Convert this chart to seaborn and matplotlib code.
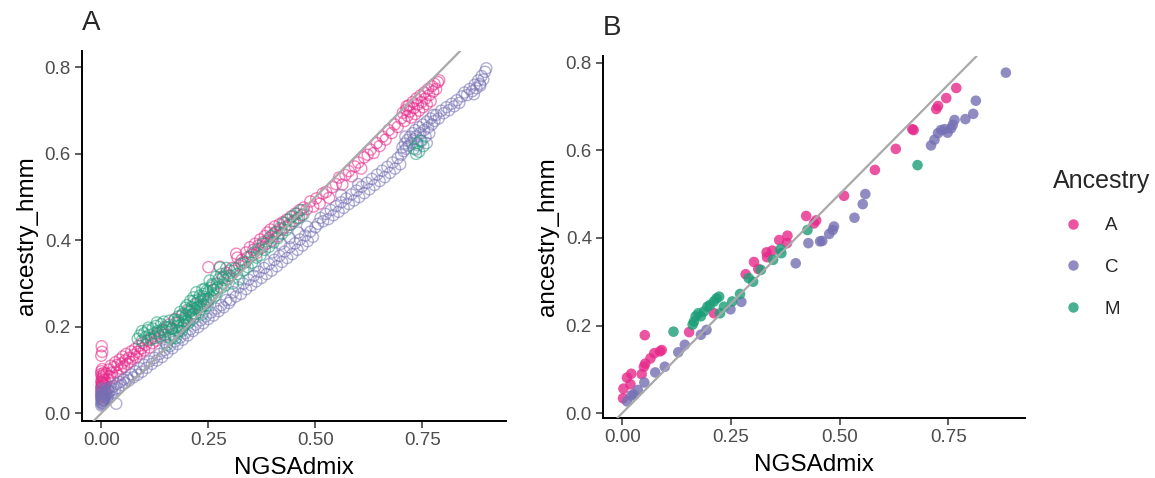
import numpy as np
import pandas as pd
import matplotlib
matplotlib.use("Agg")
import matplotlib.pyplot as plt
import seaborn as sns
from matplotlib.lines import Line2D

# ---------------- data ----------------
# Panel A (many samples, hollow points)
a_A_x = [0.000,0.001,0.000,0.002,0.000,0.001,0.003,0.000,0.002,0.001,0.004,0.000,0.003,0.005,0.002,0.006,0.001,0.004,0.007,0.000,
         0.003,0.008,0.002,0.005,0.009,0.001,0.006,0.000,0.002,0.010,0.001,
         0.012,0.015,0.018,0.020,0.022,0.025,0.027,0.030,0.033,0.035,0.038,0.040,0.043,0.046,0.048,0.050,0.053,0.056,0.058,0.061,
         0.064,0.067,0.070,0.073,0.076,0.079,0.082,0.085,0.088,0.091,0.094,0.097,0.100,0.104,0.108,0.112,0.116,0.120,0.124,0.128,
         0.133,0.138,0.143,0.148,0.153,
         0.158,0.165,0.172,0.180,0.188,0.196,0.205,0.214,0.222,0.230,0.238,0.246,0.250,0.262,0.270,0.277,0.284,0.292,0.298,0.305,
         0.310,0.315,0.318,0.322,0.328,0.333,0.338,0.342,0.347,0.351,0.355,0.359,0.363,0.367,0.371,0.375,0.378,0.382,0.385,0.388,
         0.392,0.395,0.398,0.402,0.405,0.408,0.412,0.416,0.420,0.424,0.428,0.433,0.438,0.443,0.448,0.453,0.458,0.463,0.468,0.473,
         0.480,0.488,0.495,0.502,0.510,0.517,0.525,0.532,0.540,0.548,0.555,0.563,0.570,0.578,0.585,0.592,0.600,0.607,0.614,0.622,
         0.629,0.636,0.643,0.650,0.657,0.664,0.671,0.678,0.685,0.692,
         0.700,0.704,0.708,0.712,0.715,0.718,0.721,0.724,0.727,0.730,0.733,0.736,0.739,0.742,0.745,0.748,0.751,0.754,0.757,0.760,
         0.763,0.766,0.769,0.772,0.775,0.778,0.782,0.786,0.789,0.713]
a_A_y = [0.035,0.041,0.047,0.052,0.058,0.063,0.069,0.074,0.080,0.086,0.044,0.091,0.056,0.066,0.072,0.050,0.061,0.083,0.077,0.097,
         0.038,0.064,0.102,0.088,0.055,0.069,0.093,0.133,0.142,0.071,0.155,
         0.092,0.078,0.101,0.085,0.110,0.094,0.082,0.107,0.118,0.096,0.112,0.087,0.124,0.103,0.115,0.131,0.108,0.122,0.137,0.114,
         0.128,0.119,0.143,0.126,0.135,0.149,0.130,0.142,0.156,0.138,0.150,0.163,0.145,0.158,0.168,0.152,0.173,0.162,0.179,0.168,
         0.185,0.174,0.192,0.181,0.198,
         0.205,0.196,0.218,0.210,0.226,0.219,0.238,0.230,0.252,0.246,0.265,0.258,0.338,0.285,0.300,0.339,0.312,0.325,0.318,0.336,
         0.330,0.369,0.360,0.342,0.355,0.348,0.372,0.361,0.384,0.366,0.378,0.392,0.371,0.388,0.402,0.383,0.396,0.410,0.392,0.418,
         0.405,0.425,0.399,0.414,0.432,0.420,0.409,0.437,0.425,0.442,0.430,0.448,0.436,0.455,0.444,0.462,0.451,0.470,0.458,0.476,
         0.472,0.490,0.478,0.497,0.485,0.508,0.512,0.498,0.523,0.530,0.545,0.529,0.551,0.560,0.548,0.571,0.580,0.566,0.592,0.598,
         0.610,0.602,0.625,0.618,0.640,0.633,0.655,0.648,0.668,0.662,
         0.682,0.695,0.676,0.702,0.688,0.712,0.698,0.684,0.720,0.706,0.692,0.728,0.714,0.700,0.735,0.720,0.708,0.742,0.728,0.715,
         0.750,0.736,0.722,0.757,0.744,0.762,0.750,0.766,0.770,0.710]

a_C_x = [0.000,0.001,0.000,0.002,0.001,0.003,0.000,0.004,0.002,0.005,0.001,0.006,0.003,0.007,0.000,0.008,0.004,0.009,0.002,0.010,
         0.005,0.011,0.001,0.012,0.006,0.013,0.003,0.014,0.008,0.015,0.016,0.018,0.020,0.035,0.022,
         0.025,0.028,0.032,0.036,0.040,0.044,0.048,0.052,0.056,0.060,0.065,0.070,0.075,0.080,0.085,0.090,0.095,0.100,0.106,0.112,
         0.118,0.124,0.130,0.136,0.142,0.148,0.154,0.160,0.166,0.172,0.178,0.184,0.190,0.196,0.202,0.208,0.214,0.220,0.226,0.232,
         0.238,0.244,0.250,0.256,0.262,0.268,0.274,0.280,0.286,0.292,0.298,0.150,0.180,0.210,0.240,
         0.302,0.308,0.314,0.320,0.326,0.332,0.338,0.344,0.350,0.356,0.362,0.368,0.374,0.380,0.386,0.392,0.398,0.404,0.410,0.416,
         0.422,0.428,0.434,0.440,0.446,0.452,0.458,0.464,0.470,0.476,0.482,0.488,0.494,0.500,0.360,0.400,0.420,0.440,0.460,0.480,
         0.506,0.512,0.518,0.524,0.530,0.536,0.542,0.548,0.554,0.560,0.566,0.572,0.578,0.584,0.590,0.596,0.602,0.608,0.614,0.620,
         0.626,0.632,0.638,0.644,0.650,0.656,0.662,0.668,0.674,0.680,0.686,0.692,0.698,0.560,0.600,
         0.700,0.703,0.706,0.709,0.712,0.715,0.718,0.721,0.724,0.727,0.730,0.733,0.736,0.739,0.742,0.745,0.748,0.751,0.754,0.757,
         0.760,0.763,0.766,0.769,0.772,0.775,0.778,0.710,0.735,0.760,
         0.782,0.788,0.794,0.800,0.806,0.812,0.818,0.824,0.830,0.836,0.842,0.848,0.854,0.860,0.866,0.872,0.876,0.880,0.884,0.888,
         0.892,0.896,0.899,0.870,0.885]
a_C_y = [0.018,0.022,0.026,0.030,0.034,0.038,0.042,0.024,0.046,0.028,0.050,0.033,0.020,0.040,0.054,0.027,0.044,0.036,0.031,0.048,
         0.023,0.041,0.038,0.052,0.030,0.045,0.057,0.035,0.049,0.056,0.043,0.050,0.060,0.022,0.052,
         0.048,0.062,0.055,0.068,0.058,0.072,0.065,0.078,0.070,0.082,0.076,0.090,0.083,0.097,0.089,0.104,0.096,0.112,0.105,0.120,
         0.114,0.128,0.122,0.137,0.130,0.146,0.140,0.155,0.150,0.166,0.160,0.175,0.170,0.185,0.180,0.194,0.190,0.205,0.199,0.215,
         0.208,0.224,0.218,0.233,0.226,0.242,0.236,0.250,0.245,0.262,0.255,0.163,0.190,0.222,0.252,
         0.262,0.280,0.270,0.291,0.276,0.300,0.287,0.309,0.296,0.318,0.305,0.327,0.313,0.336,0.322,0.345,0.330,0.355,0.340,0.364,
         0.350,0.374,0.359,0.384,0.368,0.393,0.378,0.402,0.388,0.411,0.398,0.420,0.408,0.430,0.340,0.372,0.392,0.405,0.418,0.432,
         0.438,0.452,0.444,0.461,0.449,0.470,0.458,0.479,0.466,0.488,0.475,0.497,0.484,0.506,0.492,0.515,0.500,0.524,0.509,0.533,
         0.518,0.542,0.528,0.552,0.537,0.561,0.546,0.570,0.556,0.580,0.566,0.590,0.576,0.505,0.530,
         0.598,0.615,0.606,0.624,0.612,0.632,0.619,0.640,0.626,0.648,0.634,0.655,0.641,0.620,0.662,0.648,0.630,0.668,0.655,0.640,
         0.675,0.661,0.648,0.682,0.668,0.690,0.676,0.640,0.610,0.625,
         0.690,0.682,0.700,0.694,0.708,0.701,0.716,0.710,0.724,0.718,0.733,0.742,0.736,0.750,0.745,0.760,0.752,0.770,0.762,0.780,
         0.772,0.790,0.798,0.738,0.758]

a_M_x = [0.085,0.090,0.095,0.100,0.104,0.108,0.112,0.116,0.120,0.124,0.128,0.132,0.136,0.140,0.143,0.146,0.149,0.110,0.125,0.138,
         0.095,0.130,
         0.150,0.153,0.156,0.159,0.162,0.165,0.168,0.171,0.174,0.177,0.180,0.182,0.184,0.186,0.188,0.190,0.192,0.194,0.196,0.198,
         0.200,0.202,0.204,0.206,0.208,0.210,0.212,0.214,0.216,0.218,0.220,0.222,0.224,0.226,0.228,0.230,0.232,0.234,0.236,0.238,
         0.240,0.242,0.244,0.246,0.248,0.250,0.253,0.256,0.259,0.262,0.265,0.268,0.271,0.274,0.277,0.280,0.284,0.288,0.292,0.296,
         0.160,0.170,0.180,0.190,0.200,0.210,0.220,0.230,0.240,0.250,0.260,0.270,0.280,0.290,0.300,0.175,0.195,0.215,0.235,0.255,
         0.302,0.307,0.312,0.317,0.322,0.327,0.332,0.337,0.342,0.347,0.352,0.357,0.362,0.367,0.372,0.377,0.382,0.387,0.392,0.397,
         0.402,0.407,0.412,0.417,0.422,0.427,0.432,0.437,0.442,0.447,0.452,0.457,0.462,0.467,0.472,
         0.730,0.738,0.745,0.752,0.742,0.735]
a_M_y = [0.172,0.180,0.168,0.185,0.176,0.192,0.181,0.170,0.196,0.185,0.202,0.190,0.178,0.206,0.194,0.212,0.200,0.198,0.174,0.188,
         0.190,0.210,
         0.190,0.158,0.176,0.214,0.172,0.195,0.183,0.216,0.174,0.202,0.215,0.190,0.234,0.204,0.190,0.230,0.214,0.204,0.244,0.228,
         0.212,0.240,0.209,0.234,0.260,0.226,0.246,0.218,0.260,0.242,0.230,0.280,0.244,0.262,0.234,0.272,0.258,0.248,0.286,0.270,
         0.248,0.288,0.264,0.284,0.250,0.280,0.307,0.268,0.299,0.286,0.271,0.316,0.289,0.310,0.337,0.290,0.316,0.308,0.336,0.310,
         0.200,0.178,0.224,0.198,0.250,0.238,0.254,0.240,0.276,0.262,0.296,0.280,0.322,0.296,0.330,0.210,0.222,0.268,0.228,0.290,
         0.318,0.300,0.335,0.322,0.310,0.345,0.330,0.350,0.338,0.362,0.348,0.372,0.360,0.380,0.366,0.392,0.378,0.398,0.385,0.410,
         0.395,0.418,0.405,0.428,0.415,0.440,0.424,0.448,0.436,0.456,0.445,0.462,0.452,0.470,0.460,
         0.612,0.625,0.630,0.618,0.605,0.600]

# Panel B (fewer samples, filled points)
b_A_x = [0.002,0.003,0.019,0.011,0.021,0.045,0.050,0.053,0.052,0.065,0.074,0.087,0.091,0.154,0.211,0.284,0.303,0.313,
         0.332,0.345,0.333,0.361,0.380,0.379,0.423,0.441,0.446,0.510,0.581,0.629,0.667,0.670,0.722,0.726,0.745,0.768]
b_A_y = [0.034,0.056,0.066,0.081,0.090,0.089,0.106,0.113,0.178,0.125,0.137,0.141,0.144,0.185,0.228,0.317,0.345,0.329,
         0.367,0.371,0.356,0.395,0.405,0.388,0.450,0.433,0.440,0.496,0.555,0.603,0.648,0.646,0.694,0.701,0.719,0.742]
b_C_x = [0.011,0.021,0.026,0.036,0.051,0.076,0.098,0.129,0.144,0.181,0.194,0.249,0.274,0.399,0.428,0.455,0.460,0.476,
         0.484,0.487,0.534,0.553,0.559,0.710,0.718,0.726,0.733,0.741,0.748,0.756,0.760,0.764,0.789,0.807,0.813,0.882]
b_C_y = [0.027,0.040,0.043,0.053,0.070,0.093,0.106,0.139,0.156,0.179,0.190,0.237,0.254,0.342,0.388,0.392,0.393,0.409,
         0.418,0.426,0.446,0.477,0.500,0.611,0.624,0.639,0.646,0.648,0.640,0.650,0.658,0.669,0.671,0.683,0.713,0.777]
b_M_x = [0.118,0.162,0.165,0.169,0.175,0.181,0.188,0.196,0.202,0.211,0.217,0.223,0.225,0.234,0.253,0.271,0.291,0.301,
         0.319,0.347,0.364,0.366,0.426,0.679]
b_M_y = [0.186,0.202,0.209,0.221,0.228,0.221,0.232,0.243,0.247,0.255,0.262,0.266,0.228,0.243,0.255,0.272,0.308,0.300,
         0.327,0.350,0.374,0.365,0.418,0.566]

x_ticks = [0.00, 0.25, 0.50, 0.75]
x_tick_labels = ["0.00", "0.25", "0.50", "0.75"]
y_ticks = [0.0, 0.2, 0.4, 0.6, 0.8]
y_tick_labels = ["0.0", "0.2", "0.4", "0.6", "0.8"]
ancestries = ["A", "C", "M"]
colors = ["#E7298A", "#7570B3", "#1B9E77"]


def frame(xa, ya, xc, yc, xm, ym):
    return pd.concat([
        pd.DataFrame({"NGSAdmix": xa, "ancestry_hmm": ya, "Ancestry": "A"}),
        pd.DataFrame({"NGSAdmix": xc, "ancestry_hmm": yc, "Ancestry": "C"}),
        pd.DataFrame({"NGSAdmix": xm, "ancestry_hmm": ym, "Ancestry": "M"}),
    ], ignore_index=True)


dfA = frame(a_A_x, a_A_y, a_C_x, a_C_y, a_M_x, a_M_y)
dfB = frame(b_A_x, b_A_y, b_C_x, b_C_y, b_M_x, b_M_y)
palette = dict(zip(ancestries, colors))

# ---------------- style ----------------
sns.set_theme(style="ticks")
plt.rcParams['font.family'] = ['Liberation Sans', 'DejaVu Sans']

W, H = 1155, 478
fig = plt.figure(figsize=(W / 100, H / 100), dpi=100)
axA = fig.add_axes([82 / W, (H - 421) / H, (506 - 82) / W, (421 - 51) / H])
axB = fig.add_axes([603 / W, (H - 418) / H, (1025 - 603) / W, (418 - 56) / H])

# Panel A: hollow circles
sns.scatterplot(data=dfA, x="NGSAdmix", y="ancestry_hmm", hue="Ancestry",
                palette=palette, hue_order=ancestries, s=64, ax=axA, legend=False)
for coll in axA.collections:
    fc = np.array(coll.get_facecolors())
    fc[:, 3] = 0.55
    coll.set_alpha(None)
    coll.set_edgecolors(fc)
    coll.set_facecolors("none")
    coll.set_linewidths(1.0)

# Panel B: filled circles
sns.scatterplot(data=dfB, x="NGSAdmix", y="ancestry_hmm", hue="Ancestry",
                palette=palette, hue_order=ancestries, s=58, alpha=0.8,
                linewidth=0, ax=axB, legend=False)

for ax, xl, yl in [(axA, (-0.045, 0.945), (-0.018, 0.838)),
                   (axB, (-0.044, 0.926), (-0.011, 0.815))]:
    ax.axline((0, 0), slope=1, color="#A9A9A9", lw=1.6, zorder=5)
    ax.set_xlim(*xl)
    ax.set_ylim(*yl)
    ax.set_xticks(x_ticks)
    ax.set_xticklabels(x_tick_labels)
    ax.set_yticks(y_ticks)
    ax.set_yticklabels(y_tick_labels)
    for s in ["top", "right"]:
        ax.spines[s].set_visible(False)
    for s in ["left", "bottom"]:
        ax.spines[s].set_linewidth(1.4)
        ax.spines[s].set_color("black")
    ax.tick_params(axis="both", length=5, width=1.1, color="#333333",
                   labelsize=13.5, labelcolor="#4D4D4D", pad=3)
    ax.set_xlabel("NGSAdmix", fontsize=17.5, color="black", labelpad=6)
    ax.set_ylabel("ancestry_hmm", fontsize=17.5, color="black", labelpad=5)
    ax.grid(False)
    ax.set_facecolor("white")

fig.text(82 / W, 1 - 23 / H, "A", fontsize=20, ha="left", va="center")
fig.text(603 / W, 1 - 28 / H, "B", fontsize=20, ha="left", va="center")

handles = [Line2D([0], [0], marker="o", linestyle="", markersize=7.5,
                  markerfacecolor=c, markeredgewidth=0, alpha=0.8) for c in colors]
leg = fig.legend(handles, ancestries, title="Ancestry", loc="upper left",
                 bbox_to_anchor=(1053 / W, 1 - 169 / H), frameon=False,
                 borderpad=0, borderaxespad=0,
                 fontsize=13.5, title_fontsize=18, labelspacing=1.3,
                 handletextpad=0.65, handlelength=2.1)
leg._legend_box.align = "left"

fig.savefig("out.png", dpi=100, facecolor="white")
